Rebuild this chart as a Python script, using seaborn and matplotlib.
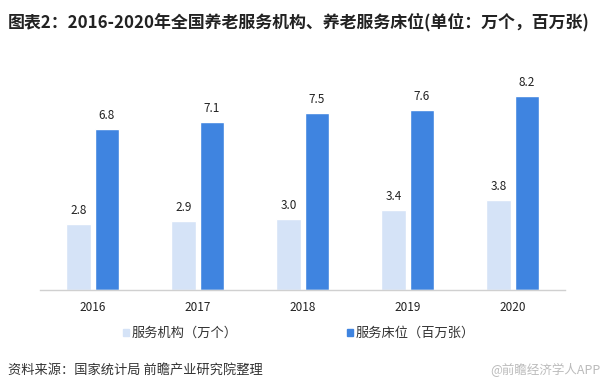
import pandas as pd
import matplotlib.pyplot as plt
import seaborn as sns

years = ["2016", "2017", "2018", "2019", "2020"]
institutions = [2.8, 2.9, 3.0, 3.4, 3.8]   # 服务机构（万个）
beds = [6.8, 7.1, 7.5, 7.6, 8.2]           # 服务床位（百万张）
series_names = ["服务机构（万个）", "服务床位（百万张）"]
colors = ["#D5E3F7", "#3F84E0"]

df = pd.DataFrame({
    "year": years * 2,
    "value": institutions + beds,
    "series": [series_names[0]] * len(years) + [series_names[1]] * len(years),
})

sns.set_style("white")
plt.rcParams["font.family"] = ["Noto Sans CJK SC", "DejaVu Sans"]

fig = plt.figure(figsize=(6.1, 3.92), dpi=100)
ax = fig.add_axes([0.0656, 0.2602, 0.8607, 0.6036])

sns.barplot(data=df, x="year", y="value", hue="series", palette=colors,
            saturation=1, width=0.54, gap=0.14, ax=ax, legend=False)

for cont in ax.containers:
    ax.bar_label(cont, fmt="%.1f", padding=5, fontsize=8.5, color="#222222")

ax.set_ylim(0, 10)
ax.set_xlim(-0.5, 4.5)
ax.set_xlabel("")
ax.set_ylabel("")
ax.set_yticks([])
for s in ["top", "left", "right"]:
    ax.spines[s].set_visible(False)
ax.spines["bottom"].set_color("#D0D0D0")
ax.spines["bottom"].set_linewidth(1)
ax.tick_params(axis="x", length=0, labelsize=8.5, colors="#222222", pad=8)

handles = [plt.Rectangle((0, 0), 1, 1, color=c) for c in colors]
fig.legend(handles, series_names, loc="center", bbox_to_anchor=(0.49, 0.149),
           ncol=2, frameon=False, fontsize=9.5, handlelength=0.45, handleheight=0.45,
           handletextpad=0.2, columnspacing=8.3, labelcolor="#333333")

fig.text(0.013, 0.944, "图表2：2016-2020年全国养老服务机构、养老服务床位(单位：万个，百万张)",
         fontsize=12.2, fontweight="bold", color="#222222", va="center")
fig.text(0.013, 0.056, "资料来源：国家统计局 前瞻产业研究院整理",
         fontsize=9.5, color="#333333", va="center")
fig.text(0.985, 0.056, "@前瞻经济学人APP", fontsize=9, color="#BBBBBB",
         va="center", ha="right")

fig.savefig("out.png", dpi=100)
